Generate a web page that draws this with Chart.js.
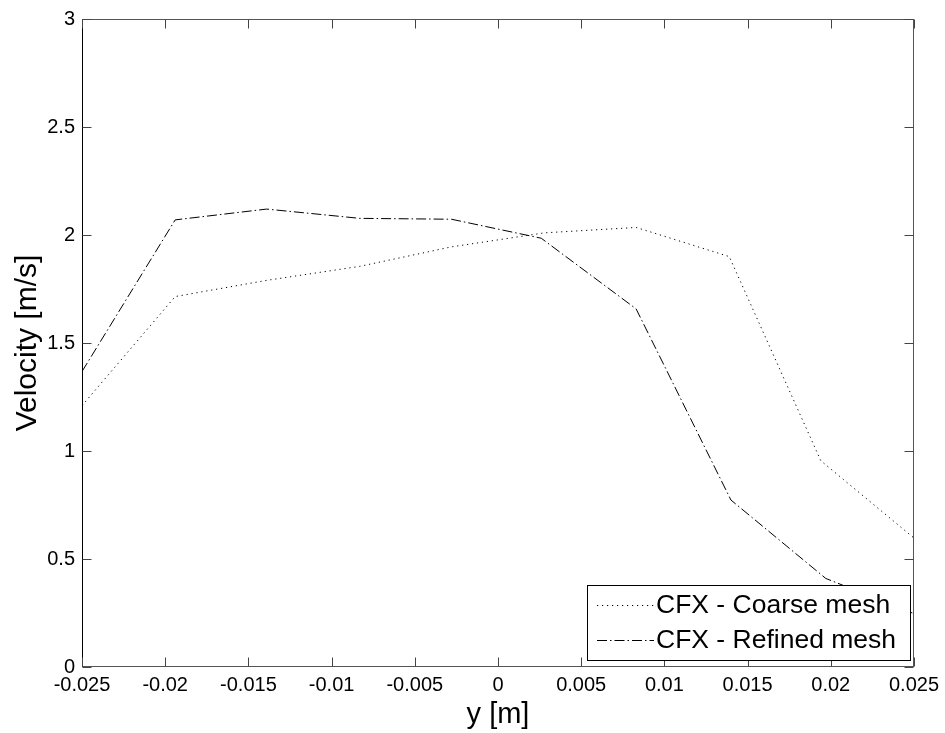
<!DOCTYPE html>
<html>
<head>
<meta charset="utf-8">
<script src="https://cdn.jsdelivr.net/npm/chart.js@4/dist/chart.umd.min.js"></script>
<style>
html,body{margin:0;padding:0;background:#fff;}
#wrap{width:945px;height:733px;}
</style>
</head>
<body>
<div id="wrap"><canvas id="c" width="945" height="733"></canvas></div>
<script>
// ---- data ----
const positions = [-0.025, -0.0194, -0.0139, -0.0083, -0.0028, 0.0028, 0.0083, 0.0139, 0.0194, 0.025];
const coarseMesh = [1.21, 1.715, 1.79, 1.855, 1.945, 2.01, 2.035, 1.90, 0.955, 0.597];
const refinedPositions = [-0.025, -0.0194, -0.0139, -0.0083, -0.0028, 0.0026, 0.0083, 0.0140, 0.0197, 0.025];
const refinedMesh = [1.368, 2.07, 2.12, 2.077, 2.073, 1.985, 1.658, 0.773, 0.41, 0.247];
const seriesLabels = ['CFX - Coarse mesh', 'CFX - Refined mesh'];
const xTickValues = [-0.025, -0.02, -0.015, -0.01, -0.005, 0, 0.005, 0.01, 0.015, 0.02, 0.025];
const xTickLabels = ['-0.025', '-0.02', '-0.015', '-0.01', '-0.005', '0', '0.005', '0.01', '0.015', '0.02', '0.025'];
const yTickValues = [0, 0.5, 1, 1.5, 2, 2.5, 3];
const yTickLabels = ['0', '0.5', '1', '1.5', '2', '2.5', '3'];
const xTitle = 'y [m]';
const yTitle = 'Velocity [m/s]';

const FONT = "'Liberation Sans', Arial, Helvetica, sans-serif";

function toPoints(xs, ys) { return xs.map((x, i) => ({x: x, y: ys[i]})); }

const frame = {
  id: 'frame',
  afterDatasetsDraw(chart) {
    const ctx = chart.ctx;
    const a = chart.chartArea;
    const xs = chart.scales.x, ys = chart.scales.y;
    ctx.save();
    ctx.lineWidth = 1;
    ctx.setLineDash([]);
    const L = Math.round(a.left) + 0.5, R = Math.round(a.right) - 0.5;
    const T = Math.round(a.top) + 0.5, B = Math.round(a.bottom) - 0.5;
    ctx.strokeStyle = '#555';
    ctx.strokeRect(L, T, R - L, B - T);
    ctx.strokeStyle = '#000';
    ctx.beginPath(); ctx.moveTo(L, T); ctx.lineTo(L, B); ctx.stroke();
    // inward ticks on all sides
    const tl = 9;
    ctx.strokeStyle = '#444';
    ctx.beginPath();
    xTickValues.forEach(v => {
      const px = Math.round(xs.getPixelForValue(v)) + 0.5;
      ctx.moveTo(px, B); ctx.lineTo(px, B - tl);
      ctx.moveTo(px, T); ctx.lineTo(px, T + tl);
    });
    yTickValues.forEach(v => {
      const py = Math.round(ys.getPixelForValue(v)) + 0.5;
      ctx.moveTo(L, py); ctx.lineTo(L + tl, py);
      ctx.moveTo(R, py); ctx.lineTo(R - tl, py);
    });
    ctx.stroke();

    // legend
    const bx = 587.5, by = 585.5, bw = 323, bh = 75;
    ctx.fillStyle = '#fff';
    ctx.fillRect(bx, by, bw, bh);
    ctx.strokeStyle = '#000';
    ctx.strokeRect(bx, by, bw, bh);
    const rows = [605, 640];
    chart.data.datasets.forEach((ds, i) => {
      const y = rows[i] + 0.5;
      ctx.strokeStyle = ds.borderColor;
      ctx.lineWidth = ds.borderWidth;
      ctx.setLineDash(ds.borderDash || []);
      ctx.beginPath();
      ctx.moveTo(597, y); ctx.lineTo(654, y);
      ctx.stroke();
      ctx.setLineDash([]);
      ctx.fillStyle = '#000';
      ctx.font = '26.5px ' + FONT;
      ctx.textAlign = 'left';
      ctx.textBaseline = 'middle';
      ctx.fillText(ds.label, 656, rows[i] + 1);
    });
    ctx.restore();
  }
};

new Chart(document.getElementById('c'), {
  type: 'scatter',
  data: {
    datasets: [
      {
        label: seriesLabels[0],
        data: toPoints(positions, coarseMesh),
        showLine: true,
        borderColor: '#000',
        borderWidth: 1,
        borderDash: [1.2, 3.8],
        pointRadius: 0,
        tension: 0,
        fill: false
      },
      {
        label: seriesLabels[1],
        data: toPoints(refinedPositions, refinedMesh),
        showLine: true,
        borderColor: '#000',
        borderWidth: 1,
        borderDash: [10, 3, 1.5, 3],
        pointRadius: 0,
        tension: 0,
        fill: false
      }
    ]
  },
  options: {
    responsive: false,
    animation: false,
    devicePixelRatio: 1,
    layout: { padding: { top: 12, right: 27, left: 0, bottom: 0 } },
    plugins: { legend: { display: false }, tooltip: { enabled: false }, title: { display: false } },
    scales: {
      x: {
        type: 'linear',
        position: 'bottom',
        min: -0.025, max: 0.025,
        afterBuildTicks(s) { s.ticks = xTickValues.map(v => ({value: v})); },
        afterFit(s) { s.height = 66; },
        grid: { display: false, drawTicks: false },
        border: { display: false },
        ticks: {
          autoSkip: false, maxRotation: 0, padding: 6,
          color: '#000',
          font: { family: FONT, size: 20 },
          callback: (v, i) => xTickLabels[i]
        },
        title: {
          display: true, text: xTitle, color: '#000',
          font: { family: FONT, size: 29, lineHeight: 1.2 },
          padding: { top: 0, bottom: 1 }
        }
      },
      y: {
        type: 'linear',
        position: 'left',
        min: 0, max: 3,
        afterBuildTicks(s) { s.ticks = yTickValues.map(v => ({value: v})); },
        afterFit(s) { s.width = 82; },
        grid: { display: false, drawTicks: false },
        border: { display: false },
        ticks: {
          autoSkip: false, padding: 7,
          color: '#000',
          font: { family: FONT, size: 20 },
          callback: (v, i) => yTickLabels[i]
        },
        title: {
          display: true, text: yTitle, color: '#000',
          font: { family: FONT, size: 30, lineHeight: 1.2 },
          padding: { top: 10, bottom: 0 }
        }
      }
    }
  },
  plugins: [frame]
});
</script>
</body>
</html>
